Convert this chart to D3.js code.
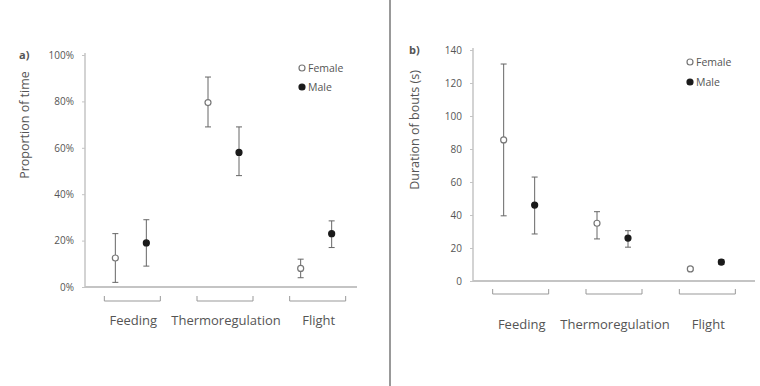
<!DOCTYPE html>
<html><head><meta charset="utf-8">
<script src="https://cdn.jsdelivr.net/npm/d3@7"></script>
<style>body{margin:0;background:#fff}svg{display:block}text{font-family:"Open Sans",sans-serif;fill:#555}</style>
</head><body><svg id="c" width="760" height="386"></svg>
<script>
const categories = ["Feeding", "Thermoregulation", "Flight"];
const seriesNames = ["Female", "Male"];
// Panel a: proportion of time
const propFemale = [0.125, 0.795, 0.08];
const propFemaleLo = [0.02, 0.69, 0.04];
const propFemaleHi = [0.23, 0.905, 0.12];
const propMale = [0.19, 0.58, 0.23];
const propMaleLo = [0.09, 0.48, 0.17];
const propMaleHi = [0.29, 0.69, 0.285];
const propTicks = [0, 0.2, 0.4, 0.6, 0.8, 1.0];
// Panel b: duration of bouts (s)
const durFemale = [85.5, 35, 7.3];
const durFemaleLo = [39.5, 25.5, 6.3];
const durFemaleHi = [131.5, 42, 8.3];
const durMale = [46, 26, 11.5];
const durMaleLo = [28.5, 20.5, 10];
const durMaleHi = [63, 30.5, 13];
const durTicks = [0, 20, 40, 60, 80, 100, 120, 140];

const svg = d3.select("#c");
const axisCol = "#c4c4c4";

function panel(o) {
  const g = svg.append("g");
  const y = d3.scaleLinear().domain(o.domain).range([o.y0, o.y1]);
  const x = d3.scalePoint().domain(categories).range([o.xr0, o.xr1]).padding(0.5);
  // y axis
  const ya = g.append("g").attr("transform", `translate(${o.ax},0)`)
    .call(d3.axisLeft(y).tickValues(o.ticks).tickSize(3).tickPadding(8).tickFormat(o.fmt));
  ya.select(".domain").remove();
  ya.selectAll(".tick line").attr("stroke", axisCol);
  ya.selectAll(".tick text").attr("font-size", 10).attr("fill", "#666").style("font-family", "Open Sans, sans-serif");
  g.append("line").attr("x1", o.ax).attr("x2", o.ax).attr("y1", y(o.domain[1]) - 2).attr("y2", y(0))
    .attr("stroke", axisCol).attr("stroke-width", 1.5);
  g.append("line").attr("x1", o.ax).attr("x2", o.axEnd).attr("y1", y(0)).attr("y2", y(0))
    .attr("stroke", axisCol).attr("stroke-width", 2);
  // brackets
  const hw = 28;
  categories.forEach(c => {
    const cx = x(c);
    g.append("path").attr("d", `M${cx-hw},${o.brY-5}V${o.brY}H${cx+hw}V${o.brY-5}`)
      .attr("fill", "none").attr("stroke", "#999").attr("stroke-width", 1);
    g.append("text").attr("x", cx + 1).attr("y", o.labY).attr("text-anchor", "middle")
      .attr("font-size", 13).attr("fill", "#555").text(c);
  });
  // series
  const series = [
    {name: seriesNames[0], v: o.f, lo: o.fl, hi: o.fh, off: -17, fill: "#fff"},
    {name: seriesNames[1], v: o.m, lo: o.ml, hi: o.mh, off: 14, fill: "#1a1a1a"}
  ];
  series.forEach(s => {
    categories.forEach((c, i) => {
      const px = x(c) + s.off;
      g.append("line").attr("x1", px).attr("x2", px).attr("y1", y(s.hi[i])).attr("y2", y(s.lo[i]))
        .attr("stroke", "#666").attr("stroke-width", 1);
      [s.hi[i], s.lo[i]].forEach(v => g.append("line").attr("x1", px - 3).attr("x2", px + 3)
        .attr("y1", y(v)).attr("y2", y(v)).attr("stroke", "#666").attr("stroke-width", 1));
      g.append("circle").attr("cx", px).attr("cy", y(s.v[i])).attr("r", 3)
        .attr("fill", s.fill).attr("stroke", s.fill === "#fff" ? "#777" : "#1a1a1a").attr("stroke-width", 1.2);
    });
  });
  // legend
  series.forEach((s, i) => {
    const ly = o.legY + i * o.legDy;
    g.append("circle").attr("cx", o.legX).attr("cy", ly).attr("r", 3)
      .attr("fill", s.fill).attr("stroke", s.fill === "#fff" ? "#777" : "#1a1a1a").attr("stroke-width", 1.2);
    g.append("text").attr("x", o.legX + 6).attr("y", ly + 3.5).attr("font-size", 10.5).attr("fill", "#666").text(s.name);
  });
  // panel label + y title
  g.append("text").attr("x", o.tagX).attr("y", y(o.domain[1]) + 4).attr("font-size", 11).attr("font-weight", "bold").attr("fill", "#333").text(o.tag);
  g.append("text").attr("transform", `translate(${o.titleX},${o.titleY}) rotate(-90)`)
    .attr("text-anchor", "middle").attr("font-size", 12.5).attr("fill", "#555").text(o.title);
}

panel({domain: [0, 1], y0: 287, y1: 55, ax: 85, axEnd: 357, xr0: 86, xr1: 364, ticks: propTicks,
  fmt: d3.format(".0%"), f: propFemale, fl: propFemaleLo, fh: propFemaleHi, m: propMale, ml: propMaleLo, mh: propMaleHi,
  brY: 301, labY: 325, legX: 302, legY: 68, legDy: 19, tag: "a)", tagX: 19, title: "Proportion of time", titleX: 29, titleY: 125});

panel({domain: [0, 140], y0: 281, y1: 50, ax: 473, axEnd: 755, xr0: 474, xr1: 754, ticks: durTicks,
  fmt: d3.format("d"), f: durFemale, fl: durFemaleLo, fh: durFemaleHi, m: durMale, ml: durMaleLo, mh: durMaleHi,
  brY: 294, labY: 329, legX: 690, legY: 62, legDy: 20, tag: "b)", tagX: 409, title: "Duration of bouts (s)", titleX: 419, titleY: 130});

// divider
svg.append("line").attr("x1", 390).attr("x2", 390).attr("y1", 0).attr("y2", 386).attr("stroke", "#555").attr("stroke-width", 1.2);
</script></body></html>
